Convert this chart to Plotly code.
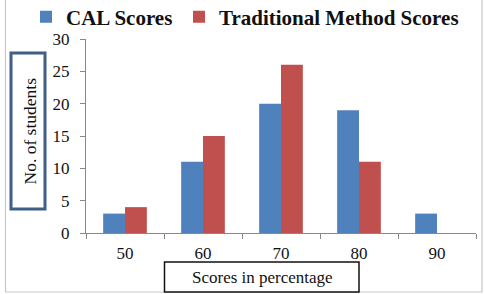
import plotly.graph_objects as go

categories = ["50", "60", "70", "80", "90"]
cal_scores = [3, 11, 20, 19, 3]
trad_scores = [4, 15, 26, 11, 0]
y_ticks = [0, 5, 10, 15, 20, 25, 30]

W, H = 485, 294
L, R, T, B = 86, 9, 39, 61
PW, PH = W - L - R, H - T - B
serif = "Liberation Serif"

fig = go.Figure()
fig.add_trace(go.Bar(x=categories, y=cal_scores, name="CAL Scores", legend="legend",
                     marker=dict(color="#4f81bd", line=dict(width=0))))
fig.add_trace(go.Bar(x=categories, y=trad_scores, name="Traditional Method Scores",
                     legend="legend2",
                     marker=dict(color="#c0504d", line=dict(width=0))))

leg_font = dict(family=serif, size=21, color="#111", weight="bold")
fig.update_layout(
    width=W, height=H,
    margin=dict(l=L, r=R, t=T, b=B, autoexpand=False),
    paper_bgcolor="white", plot_bgcolor="white",
    barmode="group", bargap=0.44, bargroupgap=0,
    font=dict(family=serif, color="#111", size=17),
    showlegend=True,
    legend=dict(orientation="h", x=26 / W, y=1 - 17 / H, xref="container", yref="container",
                xanchor="left", yanchor="middle", font=leg_font,
                itemwidth=30, bgcolor="rgba(0,0,0,0)"),
    legend2=dict(orientation="h", x=179 / W, y=1 - 17 / H, xref="container", yref="container",
                 xanchor="left", yanchor="middle", font=leg_font,
                 itemwidth=30, bgcolor="rgba(0,0,0,0)"),
    xaxis=dict(type="category", tickson="boundaries", ticks="outside", ticklen=5,
               tickcolor="#888", showline=True, linecolor="#888", linewidth=1.2,
               ticklabelstandoff=4,
               tickfont=dict(family=serif, size=17, color="#111"), showgrid=False),
    yaxis=dict(range=[0, 30], tickvals=y_ticks, ticks="outside", ticklen=5,
               tickcolor="#888", showline=True, linecolor="#888", linewidth=1.2,
               ticklabelstandoff=7,
               tickfont=dict(family=serif, size=17, color="#111"), showgrid=False,
               zeroline=False),
)

def px(x0, y0, x1, y1):
    return dict(x0=(x0 - L) / PW, x1=(x1 - L) / PW,
                y0=(H - B - y1) / PH, y1=(H - B - y0) / PH)

def pt(x, y):
    return (x - L) / PW, (H - B - y) / PH

# outer border
fig.add_shape(type="rect", xref="paper", yref="paper", **px(5.5, -5, 482, 292),
              line=dict(color="#c8c8c8", width=1.2), fillcolor="rgba(0,0,0,0)")
# y title box
fig.add_shape(type="rect", xref="paper", yref="paper", **px(11, 53, 45, 209),
              line=dict(color="#3f5f86", width=3), fillcolor="white")
ax, ay = pt(29, 131.5)
fig.add_annotation(text="No. of students", xref="paper", yref="paper",
                   x=ax, y=ay, xanchor="center", yanchor="middle",
                   showarrow=False, textangle=-90,
                   font=dict(family=serif, size=17.5, color="#111"))
# x title box
fig.add_shape(type="rect", xref="paper", yref="paper", **px(164.5, 262, 359, 292),
              line=dict(color="#111", width=1.5), fillcolor="white")
bx, by = pt(262, 277)
fig.add_annotation(text="Scores in percentage", xref="paper", yref="paper",
                   x=bx, y=by, xanchor="center", yanchor="middle", showarrow=False,
                   font=dict(family=serif, size=17, color="#111"))

fig.write_html("out.html")
